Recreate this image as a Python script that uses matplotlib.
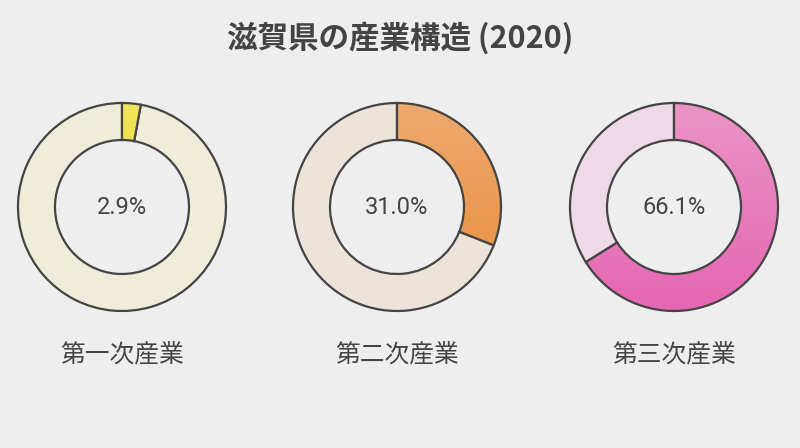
import numpy as np
import matplotlib
matplotlib.use("Agg")
import matplotlib.pyplot as plt
from matplotlib.patches import Wedge
from matplotlib.colors import to_rgb

# ---- data ----
title = "滋賀県の産業構造 (2020)"
categories = ["第一次産業", "第二次産業", "第三次産業"]
shares = [2.9, 31.0, 66.1]
labels = ["2.9%", "31.0%", "66.1%"]

# ---- style ----
bg = "#eeeeee"
text_color = "#444444"
edge = "#444444"
grad_top = ["#f1e55a", "#eda96e", "#eb95c6"]
grad_bot = ["#e6d31e", "#ea8e3c", "#e466b2"]
pale = ["#efedd9", "#ece3d9", "#eed9e6"]

W, H = 800, 448
fig = plt.figure(figsize=(W / 100, H / 100), dpi=100, facecolor=bg)
ax = fig.add_axes([0, 0, 1, 1])
ax.set_xlim(0, W)
ax.set_ylim(0, H)
ax.set_aspect("equal")
ax.axis("off")
ax.set_facecolor(bg)

centers_x = [122, 397, 674]
cy = H - 207
R = 104
ring = 37

for i, (cx, p) in enumerate(zip(centers_x, shares)):
    ang = 360 * p / 100.0
    rest = Wedge((cx, cy), R, 90, 90 - ang + 360, width=ring,
                 facecolor=pale[i], edgecolor=edge, linewidth=1.6, zorder=2)
    ax.add_patch(rest)
    w = Wedge((cx, cy), R, 90 - ang, 90, width=ring,
              facecolor="none", edgecolor="none", linewidth=0, zorder=3)
    ax.add_patch(w)
    t = np.linspace(0, 1, 256)[:, None]
    c1 = np.array(to_rgb(grad_top[i]))
    c2 = np.array(to_rgb(grad_bot[i]))
    img = (c1[None, None, :] * (1 - t[..., None]) + c2[None, None, :] * t[..., None])
    img = np.repeat(img, 2, axis=1)
    im = ax.imshow(img, extent=[cx - R, cx + R, cy - R, cy + R], origin="upper",
                   zorder=3, interpolation="bilinear", aspect="auto")
    im.set_clip_path(w)
    outline = Wedge((cx, cy), R, 90 - ang, 90, width=ring,
                    facecolor="none", edgecolor=edge, linewidth=1.6, zorder=4)
    ax.add_patch(outline)
    ax.text(cx, cy, labels[i], ha="center", va="center", fontsize=17,
            color=text_color, family=["Roboto", "Noto Sans CJK JP"], zorder=5)
    ax.text(cx, H - 354, categories[i], ha="center", va="center", fontsize=17.8,
            color=text_color, family=["Noto Sans CJK JP", "DejaVu Sans"], zorder=5)

ax.set_xlim(0, W)
ax.set_ylim(0, H)

ax.text(W / 2, H - 38, title, ha="center", va="center", fontsize=22,
        fontweight="bold", color=text_color,
        family=["Noto Sans CJK JP", "DejaVu Sans"])

fig.savefig("out.png", dpi=100, facecolor=bg)
